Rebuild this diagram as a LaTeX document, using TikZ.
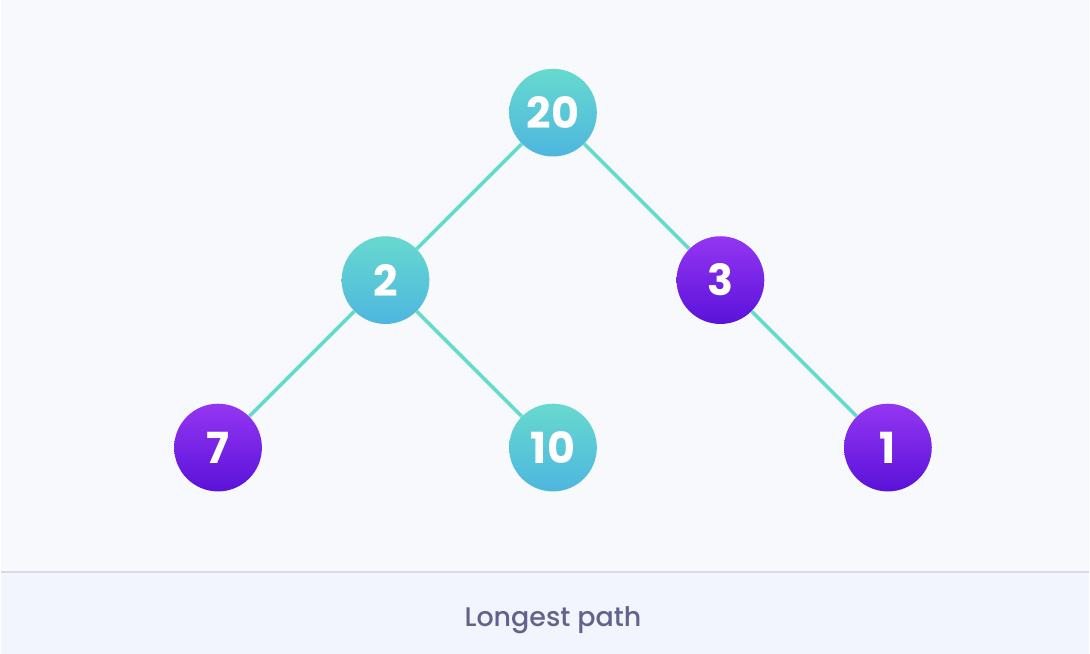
\documentclass[tikz,border=0pt]{standalone}
\usepackage{fontspec}
\setmainfont{Poppins}
\newfontfamily\numfont{Poppins}[UprightFont=* Bold]
\newfontfamily\capfont{Poppins}[UprightFont=* Medium]
\definecolor{bgc}{HTML}{F8F9FC}
\definecolor{bandc}{HTML}{F2F5FD}
\definecolor{linec}{HTML}{D5DAE6}
\definecolor{edgec}{HTML}{66D9CF}
\definecolor{tealtop}{HTML}{67D9CF}
\definecolor{tealbot}{HTML}{4EB6DF}
\definecolor{purtop}{HTML}{9436F2}
\definecolor{purbot}{HTML}{5A12D9}
\definecolor{capc}{HTML}{62628C}
\tikzset{
  tnode/.style={circle, minimum size=88pt, inner sep=0pt, top color=tealtop, bottom color=tealbot, text=white, font=\numfont\fontsize{43}{43}\selectfont},
  pnode/.style={circle, minimum size=88pt, inner sep=0pt, top color=purtop, bottom color=purbot, text=white, font=\numfont\fontsize{43}{43}\selectfont},
  edge/.style={draw=edgec, line width=3.5pt}
}
\begin{document}
\begin{tikzpicture}[x=1pt,y=-1pt]
\fill[bgc] (-1,-1) rectangle (1091,655);
\fill[bandc] (-1,573) rectangle (1091,655);
\draw[linec, line width=1.5pt] (-1,573) -- (1091,573);
\useasboundingbox (0,0) rectangle (1090,654);
\node[tnode] (n20) at (553,112) {20};
\node[tnode] (n2) at (385,280) {2};
\node[pnode] (n3) at (721,280) {3};
\node[pnode] (n7) at (217,448) {7};
\node[tnode] (n10) at (553,448) {10};
\node[pnode] (n1) at (889,448) {1};
\draw[edge] (n20) -- (n2);
\draw[edge] (n20) -- (n3);
\draw[edge] (n2) -- (n7);
\draw[edge] (n2) -- (n10);
\draw[edge] (n3) -- (n1);
\node[text=capc, font=\capfont\fontsize{27}{27}\selectfont] (cap) at (553,621) {Longest path};
\end{tikzpicture}
\end{document}
